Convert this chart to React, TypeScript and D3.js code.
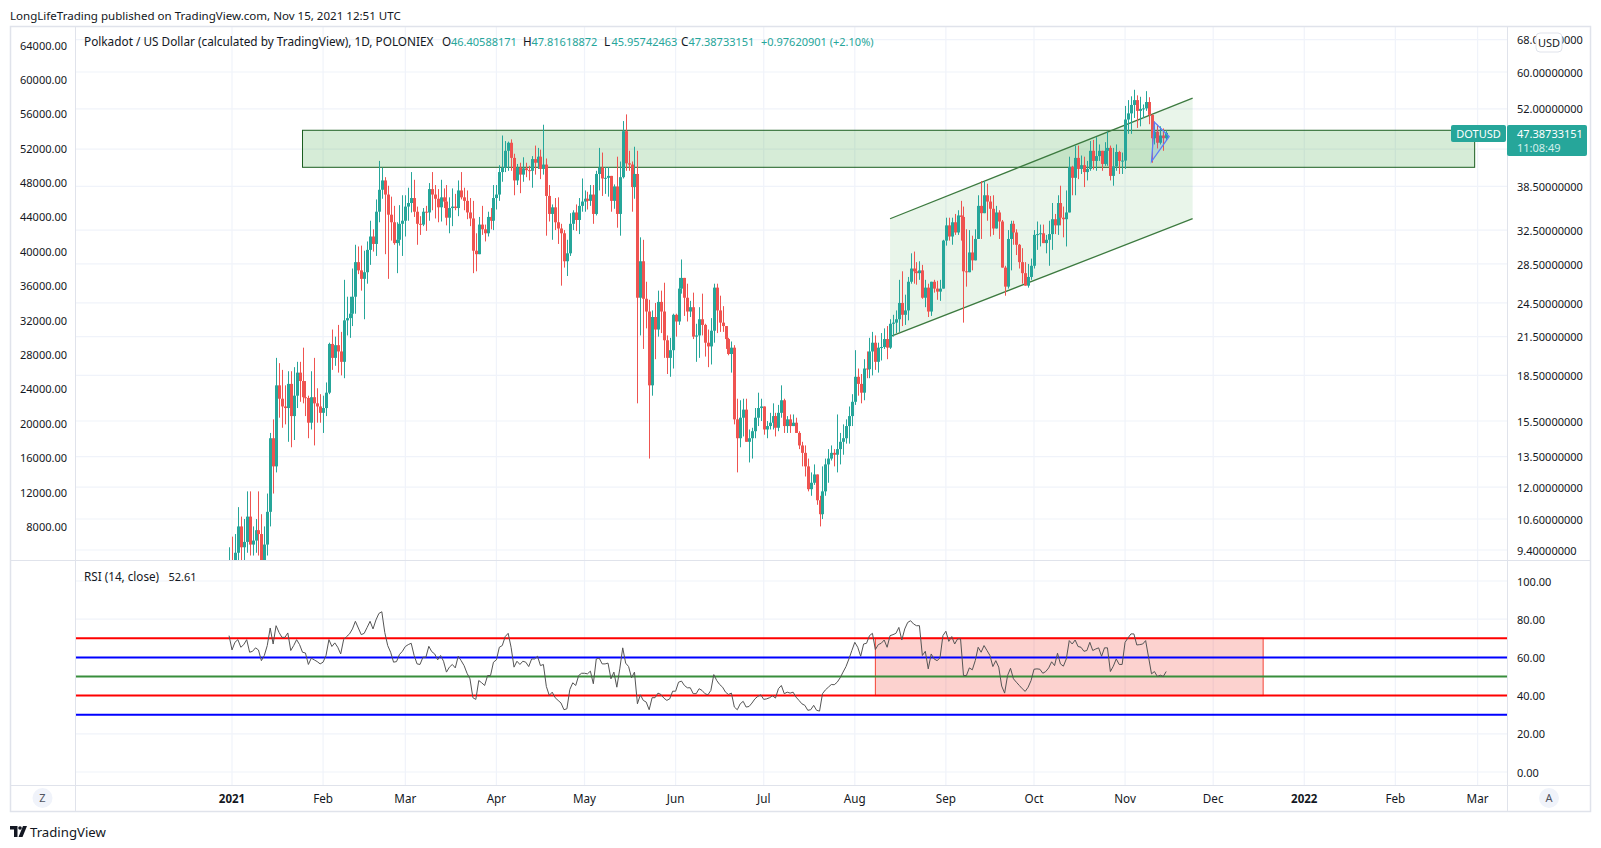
import * as d3 from 'd3'

const W = 1601
const H = 848
const FONT = '"Noto Sans", sans-serif'
const UP = '#26a69a'
const DOWN = '#ef5350'
const GRID = '#f0f3fa'
const BORDER = '#e0e3eb'
const INK = '#131722'

// daily closes in USD, first candle is 2020-12-31
const closes = [
  9.0, 8.9, 9.3, 10.3, 9.5, 9.7, 10.7, 9.6, 9.75, 10.15,
  10.0, 8.9, 9.6, 10.9, 14.5, 13.0, 17.8, 16.9, 16.4, 16.3,
  17.9, 15.8, 17.1, 18.7, 18.1, 17.0, 16.95, 15.4, 17.0, 16.6,
  16.4, 16.0, 16.3, 17.3, 20.9, 19.8, 20.8, 20.3, 19.5, 22.9,
  23.1, 23.5, 25.1, 28.7, 27.8, 26.9, 27.6, 30.1, 31.7, 30.8,
  34.9, 38.0, 39.4, 37.3, 34.5, 33.5, 30.9, 31.3, 33.3, 33.7,
  35.6, 36.1, 36.8, 34.9, 33.3, 33.2, 34.9, 34.8, 38.1, 37.3,
  36.7, 35.5, 36.9, 36.3, 34.1, 35.4, 35.6, 35.4, 37.9, 36.9,
  36.4, 34.8, 34.0, 30.0, 29.6, 33.2, 32.6, 32.1, 34.2, 33.7,
  36.8, 37.3, 40.7, 41.4, 44.2, 45.6, 43.0, 39.4, 41.4, 40.3,
  41.3, 41.0, 40.9, 42.8, 42.2, 43.2, 41.2, 41.9, 37.1, 34.6,
  35.5, 33.5, 32.7, 32.1, 28.8, 29.7, 33.3, 34.8, 33.8, 35.7,
  36.3, 36.7, 36.4, 37.3, 34.6, 40.4, 41.4, 39.7, 39.8, 40.1,
  36.4, 38.5, 34.6, 39.9, 47.7, 42.1, 41.9, 38.4, 40.4, 25.0,
  28.8, 24.9, 23.7, 17.8, 23.2, 22.1, 24.6, 23.7, 21.2, 19.8,
  20.4, 23.4, 22.8, 25.9, 27.0, 25.0, 23.7, 24.1, 21.5, 21.6,
  23.0, 22.5, 21.0, 20.7, 22.0, 26.0, 23.8, 22.7, 22.4, 21.3,
  20.1, 20.6, 15.6, 14.5, 15.7, 16.2, 14.3, 14.5, 14.9, 15.7,
  16.3, 16.4, 15.0, 15.2, 15.4, 15.8, 15.1, 16.0, 16.8, 15.2,
  15.6, 15.2, 15.4, 14.8, 14.1, 13.7, 13.0, 11.9, 12.2, 12.6,
  11.4, 10.8, 11.8, 13.1, 13.4, 13.7, 13.6, 13.9, 14.3, 14.5,
  15.2, 15.8, 16.7, 18.4, 17.9, 17.3, 19.0, 18.95, 20.3, 21.0,
  19.5, 20.6, 20.65, 21.3, 20.6, 22.6, 22.7, 23.0, 24.5, 23.4,
  23.8, 26.6, 28.0, 27.7, 27.5, 27.8, 25.0, 26.0, 23.7, 26.6,
  25.9, 25.6, 25.9, 31.2, 33.1, 31.7, 33.5, 32.2, 34.4, 34.2,
  27.7, 27.6, 29.8, 28.9, 31.4, 35.7, 34.7, 37.2, 36.3, 35.3,
  32.7, 34.8, 33.6, 28.1, 26.1, 31.4, 33.3, 32.2, 30.7, 28.7,
  27.5, 26.2, 27.1, 28.3, 31.9, 32.0, 32.1, 30.9, 31.3, 32.0,
  33.9, 33.1, 36.1, 34.1, 33.9, 34.8, 41.5, 39.8, 43.0, 41.2,
  41.8, 40.7, 41.2, 44.2, 42.5, 43.3, 44.2, 42.0, 44.2, 44.7,
  40.1, 41.6, 44.0, 42.5, 42.55, 49.9, 51.1, 52.8, 53.8, 51.6,
  52.0, 52.1, 53.4, 50.8, 46.4, 47.6, 45.6, 46.9, 46.41, 47.39,
]

const highs = [
  9.5, 9.9, 10.0, 11.1, 10.7, 10.6, 11.8, 11.8, 10.3, 10.6,
  11.8, 10.8, 10.3, 11.7, 14.8, 15.6, 19.8, 19.4, 18.9, 17.8,
  18.8, 18.8, 19.1, 19.5, 19.5, 20.6, 18.1, 17.1, 18.8, 19.8,
  17.6, 17.2, 17.1, 18.0, 21.0, 22.1, 21.5, 22.5, 21.9, 26.8,
  25.1, 25.1, 28.0, 30.7, 30.5, 30.6, 30.0, 31.1, 33.7, 32.6,
  36.6, 42.5, 41.4, 39.9, 38.6, 37.0, 35.7, 33.5, 35.8, 37.2,
  37.2, 38.3, 40.7, 39.5, 35.6, 34.3, 35.4, 35.7, 39.0, 40.7,
  38.7, 38.1, 39.5, 38.2, 38.7, 36.9, 38.2, 37.4, 39.4, 40.7,
  38.3, 37.9, 36.8, 36.4, 32.1, 34.2, 35.7, 33.2, 34.9, 35.4,
  38.7, 38.7, 41.8, 46.9, 45.9, 45.8, 46.2, 43.7, 42.0, 42.2,
  43.1, 42.2, 41.7, 43.3, 45.1, 44.7, 44.4, 48.9, 42.9, 38.7,
  35.9, 36.8, 36.9, 33.3, 32.5, 31.3, 34.7, 35.1, 35.9, 36.8,
  39.7, 37.9, 37.7, 38.7, 38.7, 40.9, 44.7, 43.9, 41.5, 41.5,
  40.1, 38.8, 43.2, 42.4, 49.6, 50.9, 44.2, 42.4, 44.9, 44.2,
  31.6, 31.3, 26.6, 24.8, 23.8, 24.5, 25.7, 25.7, 26.5, 21.6,
  21.4, 23.5, 23.5, 27.0, 29.0, 27.0, 26.4, 24.7, 25.5, 22.6,
  24.1, 25.4, 22.6, 22.1, 23.1, 26.4, 26.4, 25.2, 24.2, 22.4,
  21.4, 21.1, 20.8, 16.9, 16.8, 16.9, 16.9, 15.0, 15.1, 16.3,
  17.3, 16.9, 16.4, 15.5, 16.0, 16.6, 16.0, 16.5, 17.8, 16.9,
  15.8, 15.9, 15.9, 15.7, 14.9, 14.3, 14.1, 13.4, 12.7, 13.1,
  12.6, 11.6, 13.0, 13.4, 13.9, 14.1, 13.9, 15.9, 14.8, 15.3,
  15.6, 16.4, 17.2, 20.4, 19.0, 18.6, 19.7, 20.3, 21.4, 21.9,
  21.6, 21.0, 21.8, 22.2, 22.4, 23.0, 23.4, 23.8, 26.8, 27.7,
  25.3, 27.1, 29.7, 29.9, 28.7, 28.8, 28.4, 26.8, 26.4, 26.6,
  26.8, 26.7, 26.8, 31.3, 34.1, 34.1, 34.1, 34.6, 35.1, 36.4,
  35.6, 32.6, 32.5, 31.8, 32.6, 37.2, 39.3, 39.3, 38.9, 37.1,
  37.2, 35.7, 35.1, 33.8, 28.3, 32.5, 33.7, 33.7, 32.6, 30.8,
  30.3, 28.7, 28.5, 29.1, 32.5, 33.6, 33.2, 33.2, 31.9, 33.7,
  36.1, 34.6, 37.2, 38.6, 35.6, 37.9, 43.2, 41.7, 45.1, 45.1,
  43.4, 43.2, 42.5, 45.9, 46.1, 46.6, 45.3, 44.2, 45.7, 47.6,
  45.1, 44.7, 45.3, 44.2, 43.9, 52.6, 53.8, 54.6, 56.0, 54.8,
  54.5, 52.9, 55.7, 54.4, 50.9, 49.5, 48.9, 48.6, 48.2, 47.82,
]

const lows = [
  8.5, 8.4, 8.5, 8.6, 8.7, 9.0, 9.3, 9.2, 9.2, 9.3,
  9.2, 8.6, 8.6, 9.2, 10.3, 11.7, 12.7, 15.7, 15.1, 15.3,
  14.3, 14.0, 14.4, 16.3, 16.7, 16.6, 15.8, 14.5, 15.0, 14.1,
  15.4, 15.4, 14.8, 15.8, 17.2, 18.9, 19.2, 18.7, 18.5, 18.3,
  21.6, 21.4, 22.4, 23.5, 27.4, 25.7, 23.0, 26.4, 28.4, 29.9,
  29.4, 33.5, 36.7, 29.6, 26.9, 31.2, 30.7, 27.5, 30.6, 29.4,
  31.7, 33.7, 34.8, 34.2, 30.7, 31.9, 33.0, 32.4, 33.7, 35.1,
  34.0, 33.5, 33.6, 35.4, 33.1, 32.1, 33.0, 35.1, 34.3, 36.6,
  35.1, 33.9, 33.0, 27.5, 27.7, 29.6, 31.9, 31.1, 31.7, 32.6,
  32.5, 35.2, 36.4, 39.2, 40.7, 40.9, 40.9, 37.2, 38.7, 37.5,
  39.2, 39.9, 39.4, 38.3, 40.3, 41.2, 39.6, 40.3, 31.8, 33.6,
  31.3, 32.5, 30.8, 26.2, 28.1, 27.2, 29.4, 32.5, 32.4, 32.0,
  34.9, 34.9, 35.2, 35.7, 33.3, 34.4, 37.9, 37.1, 37.4, 37.0,
  34.9, 35.3, 32.8, 31.8, 39.7, 40.9, 40.9, 34.9, 36.7, 16.6,
  21.6, 20.5, 22.2, 13.4, 17.1, 19.7, 21.5, 21.8, 19.8, 18.6,
  18.4, 19.0, 21.5, 22.5, 25.4, 23.3, 22.8, 23.2, 21.3, 19.5,
  19.8, 21.6, 19.9, 19.1, 19.3, 21.0, 21.8, 21.9, 21.9, 20.5,
  20.0, 18.7, 15.3, 12.7, 14.0, 14.6, 14.3, 13.2, 13.4, 14.5,
  15.2, 15.5, 14.7, 14.5, 15.0, 15.0, 14.6, 14.9, 15.7, 14.8,
  14.8, 14.8, 15.2, 14.8, 13.9, 13.0, 12.5, 11.8, 11.6, 12.1,
  11.2, 10.3, 10.6, 11.6, 12.2, 13.3, 13.0, 12.7, 13.1, 13.6,
  14.2, 14.2, 15.2, 16.5, 17.1, 16.6, 16.8, 18.3, 18.3, 18.5,
  18.9, 18.7, 19.6, 20.5, 19.7, 20.5, 21.5, 21.8, 21.9, 22.4,
  22.5, 22.9, 26.4, 26.4, 26.3, 26.8, 24.9, 24.1, 23.2, 23.3,
  25.5, 24.8, 24.7, 25.9, 30.6, 31.2, 30.7, 31.9, 31.9, 31.2,
  22.7, 26.1, 27.6, 27.8, 28.9, 31.4, 31.4, 34.7, 33.7, 31.7,
  31.9, 32.7, 31.4, 28.1, 25.2, 25.9, 27.8, 30.7, 29.5, 28.0,
  26.4, 26.2, 26.0, 26.8, 28.0, 30.1, 30.5, 30.9, 29.7, 28.3,
  30.1, 32.0, 31.9, 33.1, 31.6, 30.5, 34.8, 37.2, 37.2, 39.6,
  40.4, 38.4, 39.4, 40.9, 41.1, 40.9, 42.5, 40.9, 41.7, 41.7,
  39.4, 38.6, 40.9, 40.4, 40.4, 41.2, 47.2, 47.2, 50.2, 48.3,
  48.6, 50.2, 51.6, 49.0, 42.2, 45.3, 44.6, 45.3, 44.2, 45.96,
]

const rsi = [
  71.4, 63.9, 67.9, 69.3, 65.3, 66.7, 69.3, 62.7, 63.2, 65.0,
  63.9, 58.3, 61.0, 66.2, 75.4, 67.0, 76.6, 73.1, 70.5, 70.5,
  72.8, 63.6, 66.2, 69.3, 66.7, 62.7, 62.3, 56.3, 59.6, 58.7,
  57.8, 56.6, 57.5, 61.0, 69.3, 65.7, 67.6, 65.3, 61.8, 69.3,
  70.9, 72.3, 74.9, 78.9, 75.4, 71.9, 72.6, 75.7, 78.9, 74.9,
  79.6, 83.0, 83.9, 73.1, 66.2, 62.7, 57.5, 57.8, 61.5, 63.2,
  65.7, 66.7, 67.4, 61.0, 56.6, 56.3, 60.1, 60.1, 65.8, 63.0,
  61.8, 58.7, 61.0, 58.0, 52.3, 54.9, 56.3, 54.5, 60.6, 58.3,
  55.7, 51.7, 48.8, 38.9, 38.0, 47.9, 46.7, 45.3, 50.5, 50.5,
  57.5, 58.7, 65.3, 66.2, 70.9, 72.6, 65.3, 54.9, 58.0, 56.3,
  58.0, 57.5, 55.2, 59.2, 59.2, 60.6, 55.7, 56.3, 44.8, 40.1,
  41.8, 38.9, 37.5, 36.1, 32.6, 33.1, 43.2, 46.7, 45.3, 50.5,
  51.7, 51.7, 51.4, 52.8, 46.2, 59.2, 59.6, 56.6, 56.6, 57.0,
  48.8, 52.3, 44.4, 54.0, 65.0, 57.0, 55.2, 49.3, 52.3, 35.7,
  40.4, 37.5, 36.6, 32.6, 38.9, 38.9, 41.3, 40.6, 38.7, 37.5,
  38.3, 42.3, 42.3, 47.0, 47.6, 45.3, 44.1, 44.1, 41.0, 41.0,
  43.6, 42.7, 41.0, 40.4, 42.7, 51.0, 47.9, 45.8, 44.4, 41.8,
  40.6, 41.3, 34.0, 32.6, 35.7, 37.0, 34.0, 34.3, 36.1, 38.3,
  39.6, 40.4, 38.0, 38.3, 38.9, 39.9, 38.7, 43.6, 45.3, 41.0,
  41.8, 41.3, 41.8, 39.2, 37.5, 35.7, 34.9, 32.3, 32.6, 34.9,
  32.3, 31.9, 41.0, 43.0, 44.4, 45.8, 45.7, 47.0, 49.3, 52.3,
  55.2, 59.2, 63.6, 67.9, 65.3, 60.6, 67.0, 67.4, 71.4, 72.6,
  64.1, 66.7, 67.4, 69.1, 65.3, 71.4, 71.9, 72.6, 75.7, 69.1,
  74.9, 78.3, 79.2, 77.5, 76.6, 76.6, 61.0, 63.2, 54.0, 61.8,
  59.2, 58.3, 59.7, 71.4, 73.7, 68.4, 70.9, 67.0, 69.7, 69.7,
  50.5, 50.5, 54.5, 53.5, 58.3, 65.3, 62.7, 66.2, 63.6, 61.0,
  55.2, 58.3, 54.9, 45.0, 41.3, 50.5, 54.3, 48.8, 47.0, 45.3,
  43.6, 42.2, 44.4, 47.9, 53.8, 54.0, 53.8, 51.7, 52.6, 54.5,
  57.7, 55.7, 62.2, 56.6, 55.4, 59.2, 68.8, 67.0, 69.1, 65.7,
  65.3, 63.2, 63.6, 67.9, 63.6, 64.4, 65.0, 60.6, 65.0, 65.0,
  52.6, 55.4, 59.2, 56.3, 56.3, 67.9, 70.2, 72.3, 72.3, 66.5,
  66.7, 67.0, 68.8, 60.1, 51.4, 52.6, 50.0, 50.7, 50.0, 52.61,
]

const rightTicks = [68, 60, 52, 44.5, 38.5, 32.5, 28.5, 24.5, 21.5, 18.5, 15.5, 13.5, 12, 10.6, 9.4]
const hiddenRightTicks = [44.5]
const leftTicks = d3.range(8000, 64001, 4000)
const rsiTicks = [100, 80, 60, 40, 20, 0]
const rsiLevels = [
  { value: 70, color: '#ff0000' },
  { value: 60, color: '#0000ff' },
  { value: 50, color: '#388e3c' },
  { value: 40, color: '#ff0000' },
  { value: 30, color: '#0000ff' },
]
const monthTicks = [
  ['2021-01-01', '2021', true],
  ['2021-02-01', 'Feb', false],
  ['2021-03-01', 'Mar', false],
  ['2021-04-01', 'Apr', false],
  ['2021-05-01', 'May', false],
  ['2021-06-01', 'Jun', false],
  ['2021-07-01', 'Jul', false],
  ['2021-08-01', 'Aug', false],
  ['2021-09-01', 'Sep', false],
  ['2021-10-01', 'Oct', false],
  ['2021-11-01', 'Nov', false],
  ['2021-12-01', 'Dec', false],
  ['2022-01-01', '2022', true],
  ['2022-02-01', 'Feb', false],
  ['2022-03-01', 'Mar', false],
] as const

// OHLC legend, label then value
const ohlcLegend = [
  ['O', '46.40588171', 442, 451],
  ['H', '47.81618872', 523, 531.5],
  ['L', '45.95742463', 604, 611.5],
  ['C', '47.38733151', 681, 688.5],
] as const

// drawings on the chart
const zone = { from: '2021-01-25', to: '2022-02-28', top: 47.86, bottom: 41.46 }
const channel = { from: '2021-08-13', to: '2021-11-24', upper: [33.96, 54.2], lower: [21.5, 33.97] }
const rsiBox = { from: '2021-08-08', to: '2021-12-18', top: 70, bottom: 40 }
const pattern = [
  ['2021-11-11', 49.4],
  ['2021-11-16', 46.7],
  ['2021-11-10', 42.4],
] as const

const firstDay = new Date(Date.UTC(2020, 11, 31))
const day = (s: string) => new Date(s + 'T00:00:00Z')

const x = d3.scaleUtc().domain([day('2021-01-01'), day('2022-03-01')]).range([232, 1477.6])
const y = d3.scaleLog().domain([9.4, 68]).range([550, 39.7])
const yLeft = d3.scaleLinear().domain([8000, 64000]).range([527, 45.5])
const yRsi = d3.scaleLinear().domain([0, 100]).range([772, 581])

const candles = closes.map((c, i) => ({
  date: d3.utcDay.offset(firstDay, i),
  open: i === 0 ? c : closes[i - 1],
  high: highs[i],
  low: lows[i],
  close: c,
}))

const rsiLine = d3
  .line<number>()
  .x((_, i) => x(d3.utcDay.offset(firstDay, i)))
  .y((v) => yRsi(v))

const fmtRight = (v: number) => v.toFixed(8)

export default function App() {
  const txt = { fontFamily: FONT, fontSize: 11.7, fill: INK }
  const num = { fontFamily: FONT, fontSize: 11, fill: INK }
  return (
    <svg
      width={W}
      height={H}
      style={{ position: 'fixed', left: 0, top: 0, background: '#fff', display: 'block' }}
    >
      <defs>
        <clipPath id="mainPane">
          <rect x={75} y={27} width={1432} height={533} />
        </clipPath>
      </defs>

      <text x={10} y={19.5} {...txt} fontSize={11.55}>
        LongLifeTrading published on TradingView.com, Nov 15, 2021 12:51 UTC
      </text>

      {/* grid */}
      {monthTicks.map(([d]) => (
        <line key={d} x1={x(day(d))} x2={x(day(d))} y1={27} y2={785} stroke={GRID} strokeWidth={1.2} />
      ))}
      {rightTicks.map((t) => (
        <line key={t} x1={75} x2={1507} y1={y(t)} y2={y(t)} stroke={GRID} strokeWidth={1.2} />
      ))}
      {rsiTicks.map((t) => (
        <line key={t} x1={75} x2={1507} y1={yRsi(t)} y2={yRsi(t)} stroke={GRID} strokeWidth={1.2} />
      ))}

      {/* price pane drawings */}
      <path
        d={`M${x(day(channel.from))},${y(channel.upper[0])}L${x(day(channel.to))},${y(channel.upper[1])}L${x(
          day(channel.to)
        )},${y(channel.lower[1])}L${x(day(channel.from))},${y(channel.lower[0])}Z`}
        fill="rgba(76,175,80,0.12)"
      />
      <rect
        x={x(day(zone.from))}
        y={y(zone.top)}
        width={x(day(zone.to)) - x(day(zone.from))}
        height={y(zone.bottom) - y(zone.top)}
        fill="rgba(76,175,80,0.23)"
        stroke="#1b5e20"
        strokeWidth={1}
      />
      <line
        x1={x(day(channel.from))}
        x2={x(day(channel.to))}
        y1={y(channel.upper[0])}
        y2={y(channel.upper[1])}
        stroke="#3c7a3f"
        strokeWidth={1.3}
      />
      <line
        x1={x(day(channel.from))}
        x2={x(day(channel.to))}
        y1={y(channel.lower[0])}
        y2={y(channel.lower[1])}
        stroke="#3c7a3f"
        strokeWidth={1.3}
      />

      {/* candles */}
      <g clipPath="url(#mainPane)">
        {candles.map((c) => {
          const color = c.close >= c.open ? UP : DOWN
          const cx = Math.round(x(c.date)) + 0.5
          const top = y(Math.max(c.open, c.close))
          const bottom = y(Math.min(c.open, c.close))
          return (
            <g key={+c.date}>
              <line
                x1={cx}
                x2={cx}
                y1={y(Math.max(c.high, c.open, c.close))}
                y2={y(Math.min(c.low, c.open, c.close))}
                stroke={color}
                strokeWidth={1}
              />
              <rect x={cx - 1.5} y={top} width={3} height={Math.max(bottom - top, 1)} fill={color} />
            </g>
          )
        })}
      </g>

      <path
        d={pattern.map(([d, p], i) => `${i ? 'L' : 'M'}${x(day(d))},${y(p)}`).join('') + 'Z'}
        fill="rgba(41,98,255,0.1)"
        stroke="#5b7cfa"
        strokeWidth={1.3}
      />

      {/* rsi pane */}
      <rect
        x={x(day(rsiBox.from))}
        y={yRsi(rsiBox.top)}
        width={x(day(rsiBox.to)) - x(day(rsiBox.from))}
        height={yRsi(rsiBox.bottom) - yRsi(rsiBox.top)}
        fill="rgba(244,67,54,0.24)"
        stroke="#f44336"
        strokeWidth={1}
      />
      {rsiLevels.map((l) => (
        <line
          key={l.value}
          x1={75}
          x2={1507}
          y1={yRsi(l.value)}
          y2={yRsi(l.value)}
          stroke={l.color}
          strokeWidth={2}
        />
      ))}
      <path d={rsiLine(rsi) ?? ''} fill="none" stroke="#555" strokeWidth={1} />

      {/* frame */}
      <rect x={10.5} y={26.5} width={1580} height={785} fill="none" stroke={BORDER} strokeWidth={1.5} />
      <line x1={75.5} x2={75.5} y1={27} y2={812} stroke={BORDER} />
      <line x1={1507.5} x2={1507.5} y1={27} y2={812} stroke={BORDER} />
      <line x1={11} x2={1591} y1={560.5} y2={560.5} stroke={BORDER} />
      <line x1={11} x2={1591} y1={785.5} y2={785.5} stroke={BORDER} />

      {/* legends */}
      <text x={84} y={46} {...txt} fontSize={11.8}>
        Polkadot / US Dollar (calculated by TradingView), 1D, POLONIEX
      </text>
      {ohlcLegend.map(([label, value, lx, vx]) => (
        <g key={label}>
          <text x={lx} y={46} {...txt}>
            {label}
          </text>
          <text x={vx} y={46} {...num} fill={UP}>
            {value}
          </text>
        </g>
      ))}
      <text x={761} y={46} {...num} fill={UP}>
        +0.97620901 (+2.10%)
      </text>
      <text x={84} y={581} {...txt}>
        RSI (14, close)
      </text>
      <text x={168.5} y={581} {...num}>
        52.61
      </text>

      {/* left axis */}
      {leftTicks.map((t) => (
        <text key={t} x={67} y={yLeft(t) + 4} textAnchor="end" {...num}>
          {t.toFixed(2)}
        </text>
      ))}

      {/* right axis */}
      {rightTicks
        .filter((t) => !hiddenRightTicks.includes(t))
        .map((t) => (
          <text key={t} x={1517} y={y(t) + 4.6} {...num}>
            {fmtRight(t)}
          </text>
        ))}
      {rsiTicks.map((t) => (
        <text key={t} x={1517} y={yRsi(t) + 4.6} {...num}>
          {t.toFixed(2)}
        </text>
      ))}
      <rect x={1536} y={33} width={26} height={19} rx={4} fill="#fff" stroke={BORDER} />
      <text x={1549} y={47} textAnchor="middle" {...num}>
        USD
      </text>

      {/* last price labels */}
      <rect x={1451} y={125} width={55} height={17} rx={2} fill={UP} />
      <text x={1478.5} y={138} textAnchor="middle" {...num} fill="#fff">
        DOTUSD
      </text>
      <rect x={1507} y={125} width={80} height={31} rx={2} fill={UP} />
      <text x={1517} y={138} {...num} fill="#fff">
        47.38733151
      </text>
      <text x={1517} y={152} {...num} fill="#d4efec">
        11:08:49
      </text>

      {/* time axis */}
      {monthTicks.map(([d, label, bold]) => (
        <text
          key={d}
          x={x(day(d))}
          y={803}
          textAnchor="middle"
          {...txt}
          fontSize={bold ? 11.5 : 11.7}
          fontWeight={bold ? 700 : 400}
        >
          {label}
        </text>
      ))}
      <circle cx={42.5} cy={798} r={10} fill={GRID} />
      <text x={42.5} y={802} textAnchor="middle" {...num} fill="#50535e">
        Z
      </text>
      <circle cx={1549} cy={798} r={10} fill={GRID} />
      <text x={1549} y={802} textAnchor="middle" {...num} fill="#50535e">
        A
      </text>

      {/* footer */}
      <path d="M10 826h7.5v11h-3.5v-7.5h-4z" fill={INK} />
      <circle cx={20} cy={828} r={1.8} fill={INK} />
      <path d="M23 826h4l-4.5 11h-4z" fill={INK} />
      <text x={30} y={837} fontFamily={FONT} fontSize={13.2} fill={INK}>
        TradingView
      </text>
    </svg>
  )
}
